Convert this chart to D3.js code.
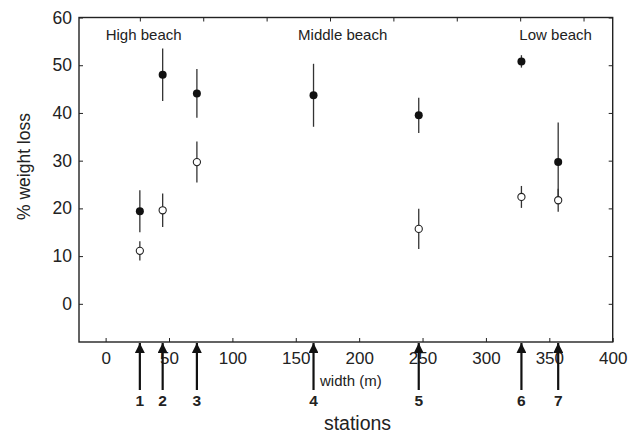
<!DOCTYPE html>
<html>
<head>
<meta charset="utf-8">
<script src="https://cdn.jsdelivr.net/npm/d3@7"></script>
<style>
  body { margin: 0; background: #fff; }
  svg text { font-family: "Liberation Sans", Arial, sans-serif; fill: #222; }
</style>
</head>
<body>
<svg id="chart" width="641" height="435"></svg>
<script>
// station positions along the beach width (m)
const stations = ["1", "2", "3", "4", "5", "6", "7"];
const stationX = [27, 45, 72, 164, 247, 328, 357];

// filled dots
const filledMean = [19.4, 48.0, 44.1, 43.7, 39.5, 50.8, 29.7];
const filledErr = [4.4, 5.5, 5.1, 6.6, 3.7, 1.3, 8.3];

// open dots (no value for station 4)
const openStations = ["1", "2", "3", "5", "6", "7"];
const openMean = [11.1, 19.6, 29.7, 15.7, 22.4, 21.7];
const openErr = [2.0, 3.5, 4.3, 4.2, 2.3, 2.4];

const xTicks = [0, 50, 100, 150, 200, 250, 300, 350, 400];
const topTicks = [27, 77, 127, 177, 227, 277, 327, 377];
const yTicks = [0, 10, 20, 30, 40, 50, 60];

const zones = [
  { label: "High beach", x: 30 },
  { label: "Middle beach", x: 187 },
  { label: "Low beach", x: 355 }
];

const svg = d3.select("#chart");
const mLeft = 79, mRight = 612.7, mTop = 17.5, mBottom = 342;

const x = d3.scaleLinear().domain([-21, 400]).range([mLeft, mRight]);
const y = d3.scaleLinear().domain([-8, 60]).range([mBottom, mTop]);

const stroke = "#222";

// bottom axis (ticks inward)
const xAxis = svg.append("g")
  .attr("transform", `translate(0,${mBottom})`)
  .call(d3.axisBottom(x).tickValues(xTicks).tickSizeInner(-4).tickSizeOuter(0).tickPadding(10));
xAxis.select(".domain").remove();
xAxis.selectAll("line").attr("stroke", stroke);
xAxis.selectAll("text").attr("font-size", 17).attr("fill", "#222");

// top axis (ticks inward, no labels)
const topAxis = svg.append("g")
  .attr("transform", `translate(0,${mTop})`)
  .call(d3.axisTop(x).tickValues(topTicks).tickSizeInner(-4).tickSizeOuter(0).tickFormat(""));
topAxis.select(".domain").remove();
topAxis.selectAll("line").attr("stroke", stroke);

// left axis
const yAxis = svg.append("g")
  .attr("transform", `translate(${mLeft},0)`)
  .call(d3.axisLeft(y).tickValues(yTicks).tickSizeInner(-4).tickSizeOuter(0).tickPadding(7));
yAxis.select(".domain").remove();
yAxis.selectAll("line").attr("stroke", stroke);
yAxis.selectAll("text").attr("font-size", 17.5).attr("fill", "#222");

// right axis
const rAxis = svg.append("g")
  .attr("transform", `translate(${mRight},0)`)
  .call(d3.axisRight(y).tickValues(yTicks).tickSizeInner(-4).tickSizeOuter(0).tickFormat(""));
rAxis.select(".domain").remove();
rAxis.selectAll("line").attr("stroke", stroke);

// frame
svg.append("rect")
  .attr("x", mLeft).attr("y", mTop)
  .attr("width", mRight - mLeft).attr("height", mBottom - mTop)
  .attr("fill", "none").attr("stroke", stroke).attr("stroke-width", 1.4);

// zone labels
svg.selectAll(".zone").data(zones).enter().append("text")
  .attr("class", "zone")
  .attr("x", d => x(d.x))
  .attr("y", 40)
  .attr("text-anchor", "middle")
  .attr("font-size", 15)
  .text(d => d.label);

// data rows
const filled = stations.map((s, i) => ({ x: stationX[i], m: filledMean[i], e: filledErr[i] }));
const open = openStations.map((s, i) => ({
  x: stationX[stations.indexOf(s)], m: openMean[i], e: openErr[i]
}));

function errorBars(data, cls) {
  const g = svg.append("g").attr("class", cls);
  g.selectAll("line.bar").data(data).enter().append("line")
    .attr("class", "bar")
    .attr("x1", d => x(d.x)).attr("x2", d => x(d.x))
    .attr("y1", d => y(d.m + d.e)).attr("y2", d => y(d.m - d.e))
    .attr("stroke", "#333").attr("stroke-width", 1.3);
  return g;
}

errorBars(open, "open-bars");
errorBars(filled, "filled-bars");

svg.selectAll(".open").data(open).enter().append("circle")
  .attr("class", "open")
  .attr("cx", d => x(d.x)).attr("cy", d => y(d.m))
  .attr("r", 3.6)
  .attr("fill", "#fff").attr("stroke", "#222").attr("stroke-width", 1.1);

svg.selectAll(".filled").data(filled).enter().append("circle")
  .attr("class", "filled")
  .attr("cx", d => x(d.x)).attr("cy", d => y(d.m))
  .attr("r", 4)
  .attr("fill", "#111");

// station arrows below the axis
svg.append("defs").append("marker")
  .attr("id", "head")
  .attr("viewBox", "0 0 10 10")
  .attr("refX", 10).attr("refY", 5)
  .attr("markerWidth", 4.5).attr("markerHeight", 4.5)
  .attr("markerUnits", "strokeWidth")
  .attr("orient", "auto")
  .append("path").attr("d", "M0,0 L10,5 L0,10 z").attr("fill", "#111");

svg.selectAll(".arrow").data(stationX).enter().append("line")
  .attr("class", "arrow")
  .attr("x1", d => x(d)).attr("x2", d => x(d))
  .attr("y1", 390).attr("y2", mBottom + 1)
  .attr("stroke", "#111").attr("stroke-width", 2.2)
  .attr("marker-end", "url(#head)");

svg.selectAll(".stn").data(stations).enter().append("text")
  .attr("class", "stn")
  .attr("x", (d, i) => x(stationX[i]))
  .attr("y", 406)
  .attr("text-anchor", "middle")
  .attr("font-size", 15.5)
  .attr("font-weight", "bold")
  .attr("fill", "#111")
  .text(d => d);

// axis titles
svg.append("text")
  .attr("x", 320).attr("y", 386)
  .attr("font-size", 15)
  .text("width (m)");

svg.append("text")
  .attr("x", 357.5).attr("y", 430)
  .attr("text-anchor", "middle")
  .attr("font-size", 19.5)
  .text("stations");

svg.append("text")
  .attr("transform", "translate(30,166.5) rotate(-90)")
  .attr("text-anchor", "middle")
  .attr("font-size", 17.5)
  .text("% weight loss");
</script>
</body>
</html>
